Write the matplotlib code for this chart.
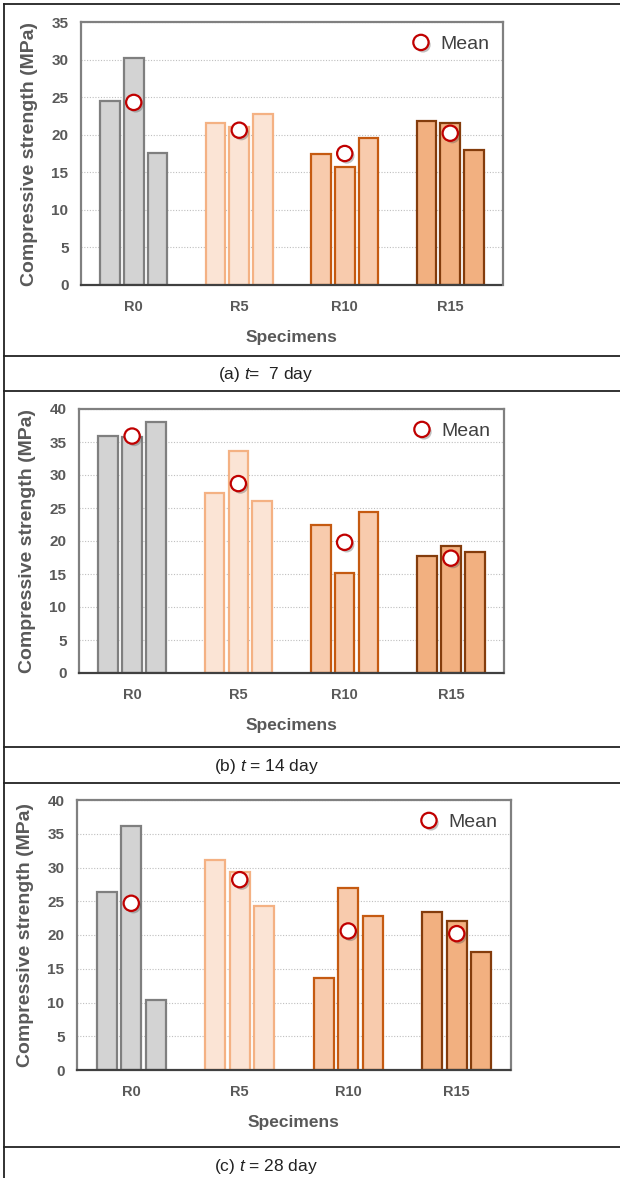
import matplotlib
matplotlib.use('Agg')
import matplotlib.pyplot as plt
import matplotlib.patheffects as pe
from matplotlib.lines import Line2D
import numpy as np

# ---- data ----
categories = ['R0', 'R5', 'R10', 'R15']

day7_values = [[24.5, 30.2, 17.6], [21.5, 21.0, 22.7], [17.4, 15.7, 19.6], [21.8, 21.5, 17.9]]
day7_mean = [24.3, 20.6, 17.5, 20.2]

day14_values = [[35.9, 35.7, 38.0], [27.3, 33.6, 26.0], [22.4, 15.1, 24.4], [17.8, 19.2, 18.3]]
day14_mean = [35.9, 28.7, 19.8, 17.4]

day28_values = [[26.4, 36.2, 10.4], [31.1, 29.3, 24.3], [13.7, 26.9, 22.8], [23.4, 22.1, 17.5]]
day28_mean = [24.7, 28.2, 20.6, 20.2]

captions = [r'(a) $\mathit{t}$=  7 day', r'(b) $\mathit{t}$ = 14 day', r'(c) $\mathit{t}$ = 28 day']
ymax = [35, 40, 40]

face_colors = ['#d3d3d3', '#fbe4d5', '#f8cbad', '#f2b080']
edge_colors = ['#7f7f7f', '#f4b183', '#c55a11', '#843c0c']

plt.rcParams['font.family'] = 'Liberation Sans'
plt.rcParams['mathtext.fontset'] = 'custom'
plt.rcParams['mathtext.it'] = 'Liberation Sans:italic'
plt.rcParams['mathtext.rm'] = 'Liberation Sans'

W, H = 620, 1178
fig = plt.figure(figsize=(W / 100, H / 100), dpi=100)

# axes boxes in pixels: left, top, right, bottom
boxes = [(81, 22, 503, 285), (79, 409, 504, 673), (77, 800, 511, 1070)]
caption_y = [375, 767, 1166]
txt_grey = '#595959'

panels = [(day7_values, day7_mean), (day14_values, day14_mean), (day28_values, day28_mean)]

x = np.arange(len(categories))
offset = 0.225
width = 0.185

for i, (vals, mean) in enumerate(panels):
    l, t, r, b = boxes[i]
    ax = fig.add_axes([l / W, 1 - b / H, (r - l) / W, (b - t) / H])
    vals = np.array(vals)
    for g in range(len(categories)):
        ax.bar(x[g] + np.array([-offset, 0, offset]), vals[g], width=width,
               color=face_colors[g], edgecolor=edge_colors[g], linewidth=1.6, zorder=2)
    ax.plot(x, mean, 'o', markersize=11, markerfacecolor='white', markeredgecolor='#c00000',
            markeredgewidth=1.6, label='Mean', zorder=4,
            path_effects=[pe.SimplePatchShadow(offset=(1.5, -1.8), alpha=0.35), pe.Normal()])
    ax.set_xlim(-0.5, 3.5)
    ax.set_ylim(0, ymax[i])
    ax.set_yticks(np.arange(0, ymax[i] + 1, 5))
    ax.set_xticks(x)
    ax.set_xticklabels(categories)
    ax.yaxis.grid(True, linestyle=(0, (1, 1.5)), color='#bfbfbf', linewidth=0.8, zorder=0)
    ax.set_axisbelow(True)
    for s in ['left', 'top', 'right']:
        ax.spines[s].set_color('#808080')
        ax.spines[s].set_linewidth(1.6)
    ax.spines['bottom'].set_linestyle((0, (1, 1)))
    ax.spines['bottom'].set_color('#404040')
    ax.spines['bottom'].set_linewidth(1.6)
    ax.tick_params(axis='y', length=0, pad=9, labelsize=11, labelcolor=txt_grey)
    ax.tick_params(axis='x', length=0, pad=11, labelsize=10.5, labelcolor=txt_grey)
    for lab in ax.get_xticklabels() + ax.get_yticklabels():
        lab.set_fontweight('bold')
    ax.set_ylabel('Compressive strength (MPa)', fontsize=14, fontweight='bold', color=txt_grey, labelpad=10)
    ax.set_xlabel('Specimens', fontsize=12.5, fontweight='bold', color=txt_grey, labelpad=11)
    leg = ax.legend(loc='upper right', frameon=False, fontsize=14, handletextpad=0.4,
                    borderaxespad=0.3, handlelength=1.2)
    for tx in leg.get_texts():
        tx.set_color('#404040')
    fig.text(266 / W, 1 - caption_y[i] / H, captions[i], ha='center', va='center', fontsize=12.5, color='#222222')

# table lines
line_kw = dict(transform=fig.transFigure, color='#222222', linewidth=1.3)
for yy in [4, 356, 391, 747, 783, 1147]:
    fig.add_artist(Line2D([4 / W, 1], [1 - yy / H, 1 - yy / H], **line_kw))
fig.add_artist(Line2D([4 / W, 4 / W], [1 - 4 / H, 0], **line_kw))

fig.savefig('out.png', dpi=100)
